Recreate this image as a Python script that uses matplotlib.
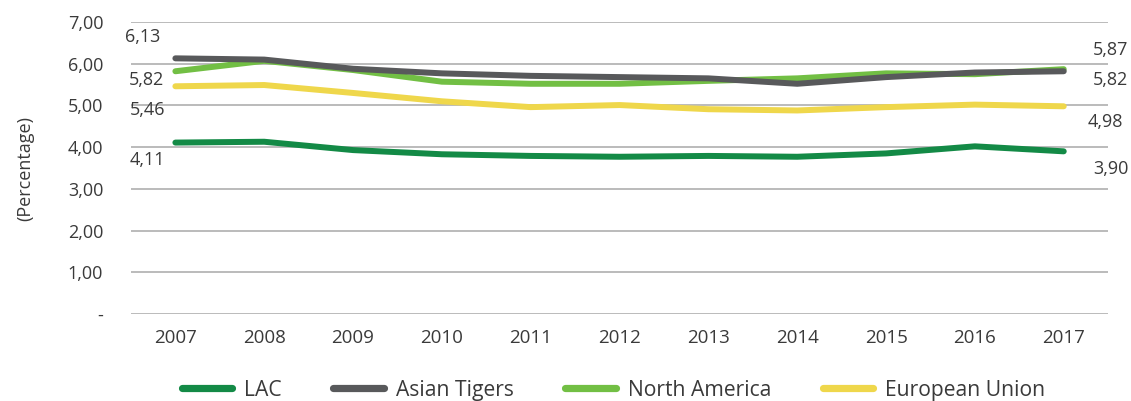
import matplotlib.pyplot as plt
import numpy as np

plt.rcParams['font.family'] = ['Open Sans', 'DejaVu Sans']

# 数据
years = ['2007', '2008', '2009', '2010', '2011', '2012', '2013', '2014', '2015', '2016', '2017']
lac = [4.11, 4.13, 3.93, 3.83, 3.79, 3.77, 3.79, 3.77, 3.85, 4.02, 3.90]
asian_tigers = [6.13, 6.10, 5.88, 5.77, 5.71, 5.68, 5.65, 5.52, 5.68, 5.79, 5.82]
north_america = [5.82, 6.07, 5.85, 5.57, 5.52, 5.52, 5.59, 5.65, 5.77, 5.75, 5.87]
european_union = [5.46, 5.49, 5.30, 5.10, 4.96, 5.01, 4.91, 4.88, 4.96, 5.02, 4.98]
y_ticks = [0, 1, 2, 3, 4, 5, 6, 7]
y_tick_labels = ['-', '1,00', '2,00', '3,00', '4,00', '5,00', '6,00', '7,00']

series = [
    ('LAC', lac, '#138a46'),
    ('Asian Tigers', asian_tigers, '#58595b'),
    ('North America', north_america, '#72bf44'),
    ('European Union', european_union, '#efd74b'),
]

text_color = '#3a3a3a'

fig = plt.figure(figsize=(11.31, 4.01), dpi=100)
ax = fig.add_axes([0.1158, 0.217, 0.864, 0.728])

x = np.arange(len(years))
# 绘制顺序: 黄色在下, 深灰在上
for name, vals, color in [series[3], series[0], series[2], series[1]]:
    ax.plot(x, vals, color=color, linewidth=4.3, solid_capstyle='round', label=name, zorder=3)

ax.set_xlim(-0.5, len(years) - 0.5)
ax.set_ylim(0, 7)
ax.set_yticks(y_ticks)
ax.set_yticklabels(y_tick_labels)
ax.set_xticks(x)
ax.set_xticklabels(years)
ax.tick_params(axis='y', length=0, labelsize=13, colors=text_color, pad=20)
ax.tick_params(axis='x', length=0, labelsize=13.5, colors=text_color, pad=11)
ax.grid(axis='y', color='#b5b5b5', linewidth=1.3)
ax.set_axisbelow(True)
for s in ax.spines.values():
    s.set_visible(False)

ax.set_ylabel('(Percentage)', fontsize=13, color=text_color)
ax.yaxis.set_label_coords(-0.099, 0.5)

# 数值标签 (首尾)
def fmt(v):
    return f'{v:.2f}'.replace('.', ',')

first_offsets = {'LAC': (-28, -17), 'Asian Tigers': (-33, 21), 'North America': (-29, -9), 'European Union': (-28, -24)}
last_offsets = {'LAC': (47, -18), 'Asian Tigers': (47, -9), 'North America': (47, 19), 'European Union': (42, -16)}
for name, vals, color in series:
    ax.annotate(fmt(vals[0]), (x[0], vals[0]), xytext=first_offsets[name], textcoords='offset pixels',
                ha='center', va='center', fontsize=13, color=text_color, annotation_clip=False)
    ax.annotate(fmt(vals[-1]), (x[-1], vals[-1]), xytext=last_offsets[name], textcoords='offset pixels',
                ha='center', va='center', fontsize=13, color=text_color, annotation_clip=False)

handles = {h.get_label(): h for h in ax.get_lines()}
leg = fig.legend([handles[n] for n, _, _ in series], [n for n, _, _ in series],
                 loc='center', bbox_to_anchor=(0.5424, 0.027), ncol=4, frameon=False,
                 fontsize=15.2, handlelength=2.4, handletextpad=0.55, columnspacing=2.45)
for t in leg.get_texts():
    t.set_color(text_color)
for l in leg.get_lines():
    l.set_linewidth(5.2)
    l.set_solid_capstyle('round')

plt.savefig('out.png', dpi=100)
print('saved')
